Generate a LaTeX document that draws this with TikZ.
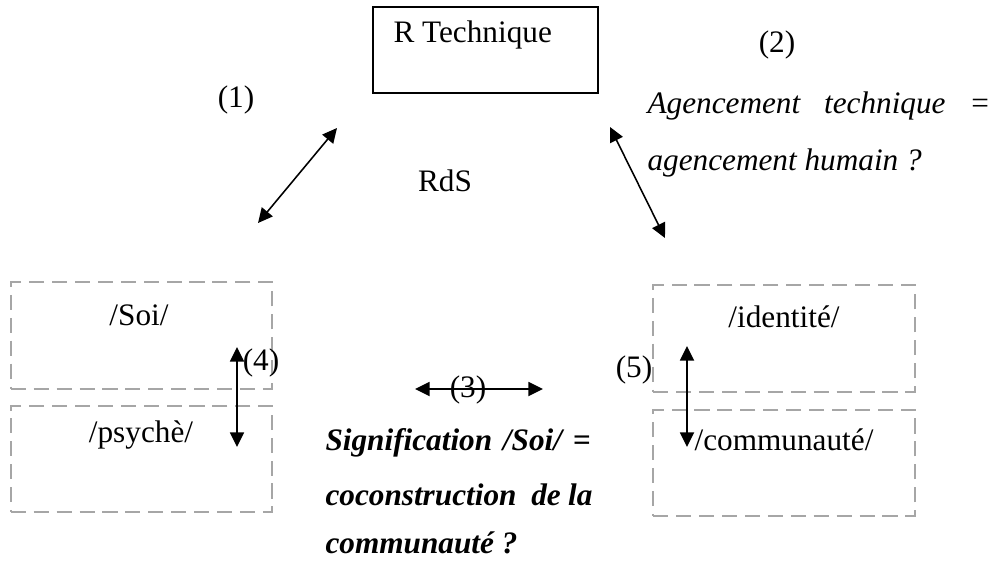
\documentclass[tikz,border=0pt]{standalone}
\usepackage{fontspec}
\setmainfont{Liberation Serif}
\usetikzlibrary{positioning,arrows.meta}

\begin{document}
\begin{tikzpicture}[x=0.384pt,y=-0.384pt,
        every node/.style={font=\fontsize{12}{14}\selectfont, inner sep=0pt},
        solidbox/.style={draw=black, line width=0.7pt, minimum width=86.4pt, minimum height=33pt},
        dashbox/.style={draw=black!35, line width=0.8pt, dash pattern=on 5.8pt off 3pt, minimum width=100.4pt, minimum height=40.8pt},
        link/.style={{Triangle[length=5.6pt,width=5.4pt]}-{Triangle[length=5.6pt,width=5.4pt]}, line width=0.6pt}]
        \useasboundingbox (0,0) rectangle (994,560);
        %Boxes
        \node[solidbox]   (rtech)                     at (485.5,50)   {};
        \node[dashbox]    (soi)                       at (141.5,335.5) {};
        \node[dashbox]    (psyche) [below=5.8pt of soi]               {};
        \node[dashbox]    (ident)                     at (784,338.5)  {};
        \node[dashbox]    (commu)  [below=6.1pt of ident]             {};
        %Texts
        \node[anchor=base west] (rtechtxt) at (393,42)  {R Technique};
        \node (soitxt)    at (139,315) {/Soi/};
        \node (psychetxt) at (141,435) {/psychè/};
        \node (identtxt)  at (784,317) {/identité/};
        \node (commutxt)  at (784,440) {/communauté/};
        \node (rds)       at (445,181) {RdS};
        \node[anchor=base west] (agenc1) at (647,113) {\itshape\makebox[131.7pt][s]{Agencement technique =}};
        \node[anchor=base west] (agenc2) at (647,170) {\itshape agencement humain ?};
        \node[anchor=base west] (sig1) at (325,450) {\bfseries\itshape\makebox[101.8pt][s]{Signification /Soi/ =}};
        \node[anchor=base west] (sig2) at (325,505) {\bfseries\itshape\makebox[102.5pt][s]{coconstruction \ de la}};
        \node[anchor=base west] (sig3) at (325,553) {\bfseries\itshape communauté ?};
        %Numbers
        \node (n1) at (236,100) {(1)};
        \node[anchor=base] (n2) at (777,52) {(2)};
        \node[anchor=base] (n4) at (261,370) {(4)};
        \node[anchor=base] (n5) at (634,377) {(5)};
        %Arrows
        \coordinate (a1s) at (258,223);
        \coordinate (a1e) at (337,128);
        \coordinate (a2s) at (610,127);
        \coordinate (a2e) at (665,238);
        \coordinate (a3s) at (415,389);
        \coordinate (a3e) at (543,389);
        \coordinate (a4s) at (237,347);
        \coordinate (a4e) at (237,447);
        \coordinate (a5s) at (687,346);
        \coordinate (a5e) at (687,447);
        \draw[link] (a1s) -- (a1e);
        \draw[link] (a2s) -- (a2e);
        \draw[link] (a3s) -- (a3e);
        \draw[link] (a4s) -- (a4e);
        \draw[link] (a5s) -- (a5e);
        \node[anchor=base] (n3) at (468,397) {(3)};
    \end{tikzpicture}
\end{document}
